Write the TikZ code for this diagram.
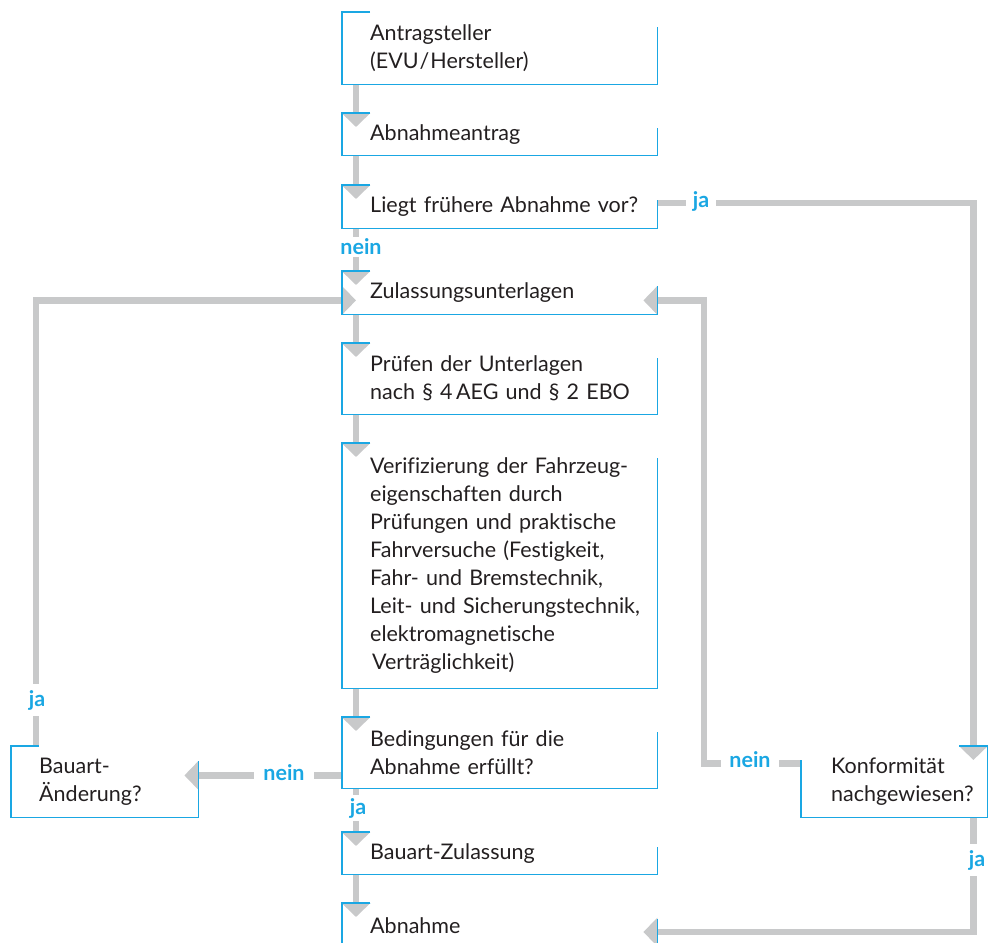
\documentclass[tikz,border=0pt]{standalone}
\usepackage{fontspec}
\setmainfont{Lato}[Ligatures=NoCommon]
\usetikzlibrary{arrows.meta,calc}
\definecolor{cy}{HTML}{1AA7E3}
\definecolor{gr}{HTML}{C8C9CA}
\definecolor{tx}{HTML}{231F20}
\tikzset{
  box/.style={rectangle, anchor=north west, minimum width=315pt, inner xsep=28pt, inner ysep=0pt,
    text width=259pt, align=left, font=\fontsize{21.5}{28}\selectfont, text=tx},
  boxline/.style={draw=cy, line width=1.2pt},
  conn/.style={draw=gr, line width=6.5pt},
  arr/.style={conn, -{Triangle[width=28pt,length=14pt]}},
  lab/.style={font=\fontsize{21.5}{24}\selectfont\bfseries, text=cy, fill=white, inner xsep=8pt, inner ysep=4pt}
}
\newcommand{\myleftbox}[1]{\draw[boxline] ($(#1.north west)+(28,0)$) -- (#1.north west) -- (#1.south west) -- (#1.south east) -- ($(#1.north east)+(0,15)$);}
\newcommand{\myl}[1]{\mbox{#1}}
\begin{document}
\begin{tikzpicture}[x=1pt,y=-1pt]
\useasboundingbox (0,0) rectangle (997,943);
% boxes (text)
\node[box,minimum height=72pt] (a1) at (342,12) {\myl{Antragsteller}\\\myl{(EVU\kern1pt/\kern1ptHersteller)}};
\node[box,minimum height=42pt] (a2) at (342,113) {\myl{Abnahmeantrag}};
\node[box,minimum height=43pt] (a3) at (342,185) {\myl{Liegt frühere Abnahme vor?}};
\node[box,minimum height=43pt] (a4) at (342,271) {\myl{Zulassungsunterlagen}};
\node[box,minimum height=71pt] (a5) at (342,343) {\myl{Prüfen der Unterlagen}\\\myl{nach §~4\,AEG und §~2 EBO}};
\node[box,minimum height=245pt] (a6) at (342,443) {\myl{Verifizierung der Fahrzeug-}\\\myl{eigenschaften durch}\\\myl{Prüfungen und praktische}\\\myl{Fahrversuche (Festigkeit,}\\\myl{Fahr- und Bremstechnik,}\\\myl{Leit- und Sicherungstechnik,}\\\myl{elektromagnetische}\\\myl{\hspace*{2pt}Verträglichkeit)}};
\node[box,minimum height=71pt] (a7) at (342,717) {\myl{Bedingungen für die}\\\myl{Abnahme erfüllt?}};
\node[box,minimum height=42pt] (a8) at (342,832) {\myl{Bauart-Zulassung}};
\node[box,minimum height=44pt] (a9) at (342,903) {\myl{Abnahme}};
\node[box,minimum height=71pt,minimum width=187pt,text width=131pt] (b1) at (11,746) {\myl{Bauart-}\\\myl{Änderung?}};
\node[box,minimum height=71pt,minimum width=186pt,inner xsep=30pt,text width=126pt] (k1) at (801,746) {\myl{Konformität}\\\myl{nachgewiesen?}};
% main vertical connectors
\foreach \p/\q in {a1/a2,a2/a3,a3/a4,a4/a5,a5/a6,a6/a7,a7/a8,a8/a9}
  \draw[arr] ($(\p.south west)+(14,0)$) -- ($(\q.north west)+(14,14)$);
% side connectors
\draw[arr] ($(a3.north east)+(0,18)$) -| ($(k1.north east)+(-14,14)$);
\draw[arr] ($(k1.south west)+(0,-54)$) -- ++(-97,0) |- ($(a4.south east)+(-14,-14)$);
\draw[arr] ($(k1.south east)+(-14,0)$) |- ($(a9.north east)+(-14,29)$);
\draw[arr] ($(a7.south west)+(0,-13)$) -- ($(b1.south east)+(-14,-42)$);
\draw[arr] ($(b1.north west)+(25,0)$) |- ($(a4.south west)+(14,-14)$);
% labels
\node[lab,inner ysep=2pt] (n1) at (361,247) {nein};
\node[lab,inner xsep=7pt] (j1) at (701,201) {ja};
\node[lab,inner xsep=9pt] (n2) at (284,773) {nein};
\node[lab,inner ysep=6pt] (j2) at (37,700) {ja};
\node[lab,inner ysep=3pt] (j3) at (358,808) {ja};
\node[lab,inner xsep=8pt] (n3) at (750,760) {nein};
\node[lab,inner ysep=6pt] (j4) at (977,860) {ja};
% box outlines
\foreach \b in {a1,a2,a3,a4,a5,a6,a7,a8,b1} \myleftbox{\b}
\draw[boxline] ($(a9.north west)+(28,0)$) -- (a9.north west) -- (a9.south west);
\draw[boxline] ($(a9.north east)+(0,16)$) -- (a9.south east);
\draw[boxline] ($(k1.north east)+(-28,0)$) -- (k1.north east) -- (k1.south east) -- (k1.south west) -- ($(k1.north west)+(0,14)$);
\end{tikzpicture}
\end{document}
